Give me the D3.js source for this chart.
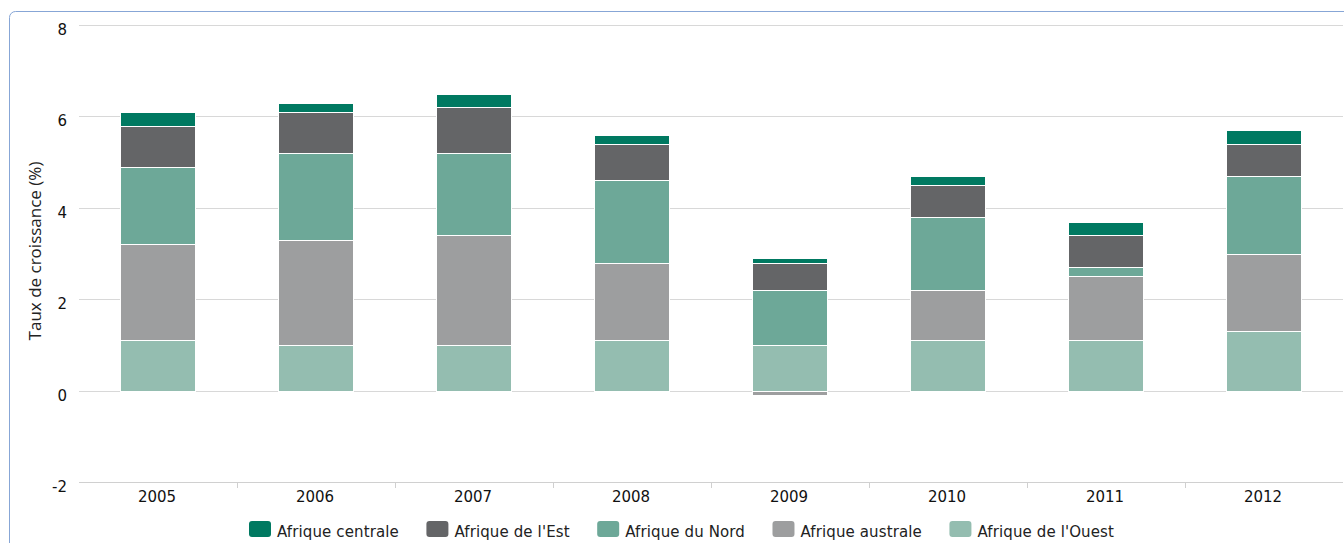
<!DOCTYPE html>
<html><head><meta charset="utf-8">
<script src="https://cdn.jsdelivr.net/npm/d3@7"></script>
<style>
html,body{margin:0;padding:0;background:#fff;overflow:hidden}
svg{display:block}
</style></head>
<body>
<svg id="chart" width="1344" height="543"></svg>
<script>
const categories = ["2005","2006","2007","2008","2009","2010","2011","2012"];
const seriesNames = ["Afrique centrale","Afrique de l'Est","Afrique du Nord","Afrique australe","Afrique de l'Ouest"];
const centrale = [0.3,0.2,0.3,0.2,0.1,0.2,0.3,0.3];
const est      = [0.9,0.9,1.0,0.8,0.6,0.7,0.7,0.7];
const nord     = [1.7,1.9,1.8,1.8,1.2,1.6,0.2,1.7];
const australe = [2.1,2.3,2.4,1.7,-0.1,1.1,1.4,1.7];
const ouest    = [1.1,1.0,1.0,1.1,1.0,1.1,1.1,1.3];
const yTicks = [-2,0,2,4,6,8];
const colors = ["#007961","#646567","#6da898","#9d9e9f","#94bdb0"];

(function(){
const seriesValues = [centrale, est, nord, australe, ouest];
const svg = d3.select("#chart");
const W = 1344, H = 543;

// container border
svg.append("rect").attr("x",9.5).attr("y",11.5).attr("width",W).attr("height",H)
  .attr("rx",6).attr("fill","none").attr("stroke","#87a6d6").attr("stroke-width",1);

const pL = 79, pR = 1343, pT = 25, pB = 482;
const x = d3.scaleBand().domain(categories).range([pL,pR]).padding(0);
const y = d3.scaleLinear().domain([-2,8]).range([pB,pT]);

// grid
svg.append("g").selectAll("line").data(yTicks.filter(t=>t!==-2)).join("line")
  .attr("x1",pL).attr("x2",pR)
  .attr("y1",d=>Math.round(y(d))+0.5).attr("y2",d=>Math.round(y(d))+0.5)
  .attr("stroke","#d8d8d8").attr("stroke-width",1);

// y tick labels
svg.append("g").selectAll("text").data(yTicks).join("text")
  .attr("x",67).attr("y",d=>y(d)+10)
  .attr("text-anchor","end")
  .attr("font-family","DejaVu Sans").attr("font-size",15).attr("fill","#111")
  .text(d=>d);

// y axis title
svg.append("text")
  .attr("transform",`translate(40.5,251) rotate(-90)`)
  .attr("text-anchor","middle")
  .attr("font-family","Open Sans").attr("font-size",17).attr("fill","#222")
  .text("Taux de croissance (%)");

// stacking (Highcharts order: last series at bottom)
const rows = categories.map((c,i)=>{
  let pos = 0, neg = 0;
  const segs = [];
  for (let s = seriesValues.length-1; s >= 0; s--) {
    const v = seriesValues[s][i];
    if (v >= 0) { segs.push({s, y0:pos, y1:pos+v}); pos += v; }
    else { segs.push({s, y0:neg+v, y1:neg}); neg += v; }
  }
  return {c, segs};
});

const bw = 75;
const g = svg.append("g");
rows.forEach(r=>{
  const cx = x(r.c) + x.bandwidth()/2;
  r.segs.forEach(sg=>{
    const yt = Math.round(y(sg.y1)), yb = Math.round(y(sg.y0));
    g.append("rect")
      .attr("x",Math.round(cx-bw/2)-0.5).attr("y",yt+0.5)
      .attr("width",bw).attr("height",Math.max(0,yb-yt))
      .attr("fill",colors[sg.s]).attr("stroke","#fff").attr("stroke-width",1);
  });
});

// x axis
const xa = svg.append("g");
xa.append("line").attr("x1",pL).attr("x2",pR).attr("y1",pB+0.5).attr("y2",pB+0.5)
  .attr("stroke","#d0d0d0").attr("stroke-width",1);
xa.selectAll("line.tick").data(categories.slice(1)).join("line").attr("class","tick")
  .attr("x1",d=>Math.round(x(d))+0.5).attr("x2",d=>Math.round(x(d))+0.5)
  .attr("y1",pB).attr("y2",pB+6)
  .attr("stroke","#d0d0d0");
xa.selectAll("text.lbl").data(categories).join("text").attr("class","lbl")
  .attr("x",d=>x(d)+x.bandwidth()/2-1).attr("y",pB+20)
  .attr("text-anchor","middle")
  .attr("font-family","DejaVu Sans").attr("font-size",15).attr("fill","#111")
  .text(d=>d);

// legend
const legend = svg.append("g");
let lx = 249;
seriesNames.forEach((n,i)=>{
  legend.append("rect").attr("x",lx).attr("y",521).attr("width",22).attr("height",16)
    .attr("rx",3).attr("fill",colors[i]);
  const t = legend.append("text").attr("x",lx+28).attr("y",537)
    .attr("font-family","DejaVu Sans").attr("font-size",15).attr("fill","#222")
    .attr("letter-spacing",0.12)
    .text(n);
  lx += t.node().getComputedTextLength() + 28 + 27.5;
});
})();
</script>
</body></html>
